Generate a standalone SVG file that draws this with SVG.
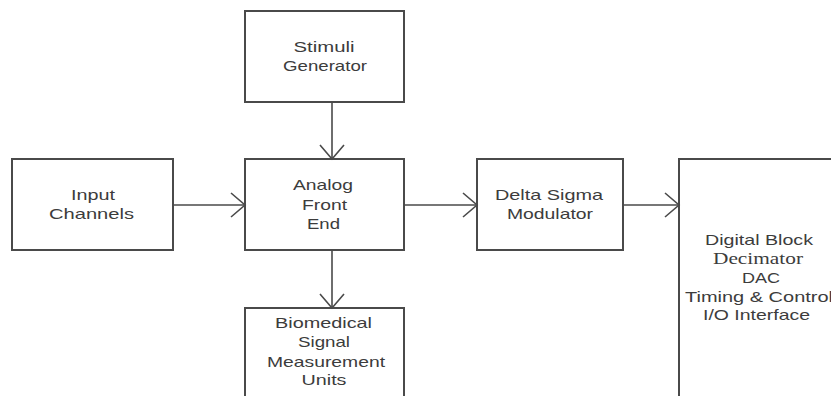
<svg xmlns="http://www.w3.org/2000/svg" width="831" height="396" viewBox="0 0 831 396">
<style>
.box{fill:#fff;stroke:#4a4a4a;stroke-width:2}
.t{font-family:"Liberation Sans",Arial,sans-serif;font-size:14.5px;fill:#3c3c3c;text-anchor:middle}
.s{font-family:"Liberation Serif","Times New Roman",serif;font-size:17px;fill:#3c3c3c;text-anchor:middle}
.c{fill:none;stroke:#4a4a4a;stroke-width:1.6}
</style>
<defs>
<marker id="arr" markerUnits="userSpaceOnUse" markerWidth="30" markerHeight="30" refX="16" refY="13" orient="auto" viewBox="0 0 30 30">
<path d="M2,1 L16,13 L2,25" fill="none" stroke="#4a4a4a" stroke-width="1.6"/>
</marker>
</defs>
<rect width="831" height="396" fill="#fff"/>
<g id="stimuli">
<rect class="box" x="245" y="11" width="159" height="91"/>
<text class="t" x="324" y="52" textLength="61" lengthAdjust="spacingAndGlyphs">Stimuli</text>
<text class="t" x="325" y="71" textLength="84" lengthAdjust="spacingAndGlyphs">Generator</text>
</g>
<g id="input">
<rect class="box" x="12" y="159" width="161" height="91"/>
<text class="t" x="93" y="200" textLength="44" lengthAdjust="spacingAndGlyphs">Input</text>
<text class="t" x="91.5" y="219" textLength="85" lengthAdjust="spacingAndGlyphs">Channels</text>
</g>
<g id="afe">
<rect class="box" x="245" y="159" width="159" height="91"/>
<text class="t" x="323" y="190" textLength="60" lengthAdjust="spacingAndGlyphs">Analog</text>
<text class="t" x="324.5" y="210" textLength="45" lengthAdjust="spacingAndGlyphs">Front</text>
<text class="t" x="323.5" y="229" textLength="33" lengthAdjust="spacingAndGlyphs">End</text>
</g>
<g id="dsm">
<rect class="box" x="477" y="159" width="146" height="91"/>
<text class="t" x="549" y="200" textLength="108" lengthAdjust="spacingAndGlyphs">Delta Sigma</text>
<text class="t" x="550" y="219" textLength="86" lengthAdjust="spacingAndGlyphs">Modulator</text>
</g>
<g id="digital">
<rect class="box" x="679" y="159" width="170" height="260"/>
<text class="t" x="759" y="245" textLength="108" lengthAdjust="spacingAndGlyphs">Digital Block</text>
<text class="s" x="758" y="264" textLength="90" lengthAdjust="spacingAndGlyphs">Decimator</text>
<text class="t" x="761" y="283" textLength="38" lengthAdjust="spacingAndGlyphs">DAC</text>
<text class="t" x="759" y="302" textLength="148" lengthAdjust="spacingAndGlyphs">Timing &amp; Control</text>
<text class="t" x="756.5" y="320" textLength="107" lengthAdjust="spacingAndGlyphs">I/O Interface</text>
</g>
<g id="bio">
<rect class="box" x="245" y="308" width="159" height="110"/>
<text class="t" x="323.5" y="328" textLength="97" lengthAdjust="spacingAndGlyphs">Biomedical</text>
<text class="t" x="324" y="347" textLength="52" lengthAdjust="spacingAndGlyphs">Signal</text>
<text class="t" x="326" y="367" textLength="118" lengthAdjust="spacingAndGlyphs">Measurement</text>
<text class="t" x="324" y="385" textLength="45" lengthAdjust="spacingAndGlyphs">Units</text>
</g>
<g id="connectors">
<line class="c" x1="332" y1="102" x2="332" y2="159" marker-end="url(#arr)"/>
<line class="c" x1="173" y1="205" x2="245" y2="205" marker-end="url(#arr)"/>
<line class="c" x1="404" y1="205" x2="477" y2="205" marker-end="url(#arr)"/>
<line class="c" x1="623" y1="205" x2="679" y2="205" marker-end="url(#arr)"/>
<line class="c" x1="332" y1="250" x2="332" y2="308" marker-end="url(#arr)"/>
</g>
</svg>
